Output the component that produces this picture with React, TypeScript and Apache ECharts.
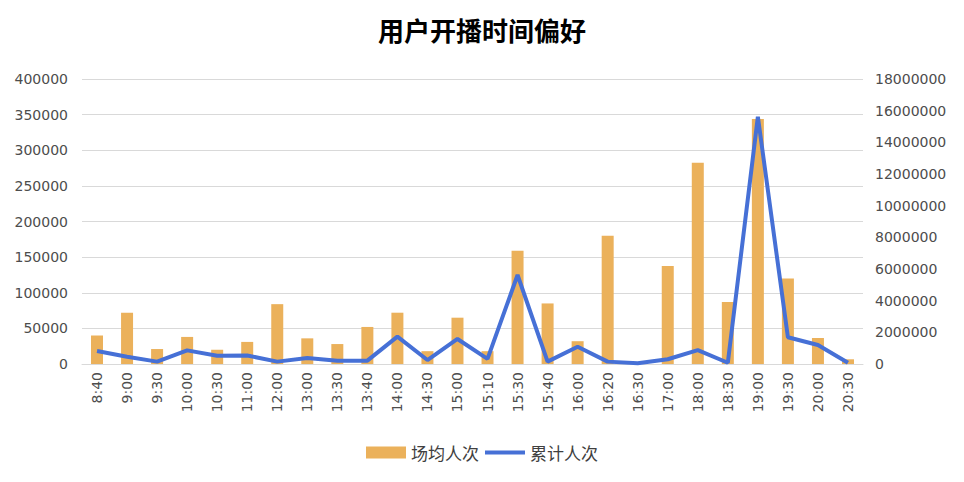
import React, { useEffect, useRef } from "react";
import * as echarts from "echarts";

const categories = ["8:40","9:00","9:30","10:00","10:30","11:00","12:00","13:00","13:30","13:40","14:00","14:30","15:00","15:10","15:30","15:40","16:00","16:20","16:30","17:00","18:00","18:30","19:00","19:30","20:00","20:30"];
const avgViewers = [40000,72000,21000,38000,20000,31000,84000,36000,28000,52000,72000,18000,65000,18000,159000,85000,32000,180000,0,137500,282500,87000,344000,120000,36500,6600];
const totalViewers = [820000,460000,150000,860000,520000,540000,150000,380000,210000,210000,1730000,250000,1580000,320000,5620000,150000,1090000,150000,50000,300000,880000,80000,15620000,1690000,1200000,80000];
const leftTicks = { min: 0, max: 400000, interval: 50000 };
const rightTicks = { min: 0, max: 18000000, interval: 2000000 };

export default function App() {
  const ref = useRef<HTMLDivElement>(null);
  useEffect(() => {
    document.body.style.margin = "0";
    const chart = echarts.init(ref.current!, undefined, { renderer: "svg" });
    const axisLabel = { color: "#4d4d4d", fontSize: 14, fontFamily: "DejaVu Sans", formatter: (v: any) => String(v) };
    chart.setOption({
      animation: false,
      title: {
        text: "用户开播时间偏好",
        left: "center",
        top: 11,
        textStyle: { fontSize: 26, fontWeight: "bold", color: "#000", fontFamily: "Noto Sans CJK SC" },
      },
      legend: {
        bottom: 16,
        left: 361,
        itemWidth: 40,
        itemHeight: 12,
        itemGap: 6,
        textStyle: { fontSize: 17, color: "#404040", fontFamily: "Noto Sans CJK SC" },
        data: [
          { name: "场均人次", icon: "rect" },
          { name: "累计人次", icon: "path://M0,0 H40 V4 H0 Z" },
        ],
      },
      grid: { left: 82, top: 79, width: 781, height: 285, containLabel: false },
      xAxis: {
        type: "category",
        data: categories,
        axisLine: { lineStyle: { color: "#d9d9d9" } },
        axisTick: { show: false },
        axisLabel: { color: "#4d4d4d", fontSize: 14, fontFamily: "DejaVu Sans", rotate: 90, interval: 0, margin: 8 },
      },
      yAxis: [
        {
          type: "value",
          ...leftTicks,
          axisLine: { show: false },
          axisTick: { show: false },
          splitLine: { lineStyle: { color: "#d9d9d9" } },
          axisLabel: { ...axisLabel, margin: 14 },
        },
        {
          type: "value",
          ...rightTicks,
          axisLine: { show: false },
          axisTick: { show: false },
          splitLine: { show: false },
          axisLabel: { ...axisLabel, margin: 12 },
        },
      ],
      series: [
        {
          name: "场均人次",
          type: "bar",
          data: avgViewers,
          barWidth: 12,
          itemStyle: { color: "#EBB15B" },
        },
        {
          name: "累计人次",
          type: "line",
          yAxisIndex: 1,
          data: totalViewers,
          symbol: "none",
          lineStyle: { color: "#4670D6", width: 4 },
          itemStyle: { color: "#4670D6" },
        },
      ],
    });
    return () => chart.dispose();
  }, []);
  return <div ref={ref} style={{ width: 964, height: 482 }} />;
}
